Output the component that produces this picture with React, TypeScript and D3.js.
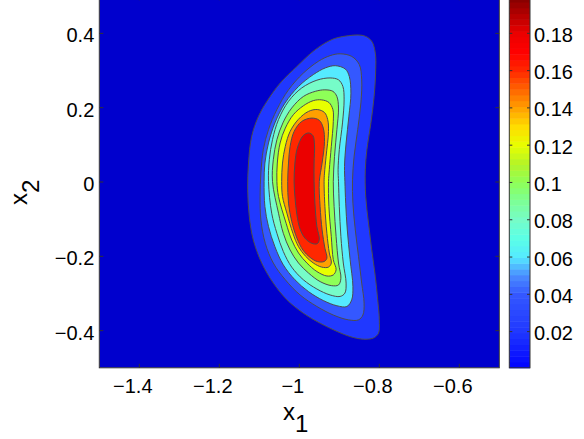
import React from "react";
import * as d3 from "d3";

type Pt = [number, number];

// contour levels (filled contour plot of a 2D density)
const levels = [0.02, 0.04, 0.06, 0.08, 0.1, 0.12, 0.14, 0.16, 0.18];
const xTicks = [-1.4, -1.2, -1, -0.8, -0.6];
const yTicks = [-0.4, -0.2, 0, 0.2, 0.4];
const colorTicks = [0.02, 0.04, 0.06, 0.08, 0.1, 0.12, 0.14, 0.16, 0.18];
const colorRange = [0.0006, 0.1999];

// outlines of each level, [x1, x2]
const contour02: Pt[] = [
  [-0.898, 0.39], [-0.84, 0.394], [-0.819, 0.379], [-0.81, 0.347], [-0.809, 0.302],
  [-0.813, 0.23], [-0.821, 0.159], [-0.831, 0.087], [-0.835, 0.033], [-0.834, -0.039],
  [-0.827, -0.111], [-0.819, -0.182], [-0.81, -0.254], [-0.804, -0.317], [-0.8, -0.371],
  [-0.802, -0.407], [-0.815, -0.42], [-0.84, -0.423], [-0.873, -0.416], [-0.906, -0.402],
  [-0.948, -0.38], [-0.99, -0.353], [-1.031, -0.317], [-1.065, -0.272], [-1.094, -0.218],
  [-1.115, -0.156], [-1.125, -0.093], [-1.129, -0.021], [-1.127, 0.051], [-1.119, 0.123],
  [-1.102, 0.177], [-1.081, 0.217], [-1.048, 0.266], [-1.006, 0.311], [-0.965, 0.352],
  [-0.927, 0.379],
];
const contour04: Pt[] = [
  [-0.898, 0.345], [-0.869, 0.338], [-0.85, 0.316], [-0.844, 0.275], [-0.846, 0.213],
  [-0.854, 0.141], [-0.863, 0.069], [-0.867, 0.006], [-0.866, -0.057], [-0.86, -0.129],
  [-0.852, -0.2], [-0.844, -0.272], [-0.838, -0.326], [-0.841, -0.358], [-0.852, -0.371],
  [-0.877, -0.371], [-0.915, -0.358], [-0.956, -0.335], [-0.998, -0.304], [-1.035, -0.263],
  [-1.065, -0.218], [-1.085, -0.165], [-1.096, -0.102], [-1.098, -0.039], [-1.096, 0.024],
  [-1.09, 0.087], [-1.077, 0.141], [-1.056, 0.195], [-1.027, 0.248], [-0.99, 0.293],
  [-0.952, 0.325], [-0.923, 0.34],
];
const contour06: Pt[] = [
  [-0.91, 0.313], [-0.885, 0.304], [-0.875, 0.284], [-0.871, 0.239], [-0.876, 0.177],
  [-0.883, 0.105], [-0.887, 0.042], [-0.886, 0.001], [-0.884, -0.057], [-0.88, -0.129],
  [-0.873, -0.209], [-0.866, -0.281], [-0.869, -0.317], [-0.881, -0.335], [-0.906, -0.333],
  [-0.94, -0.319], [-0.977, -0.295], [-1.011, -0.263], [-1.04, -0.223], [-1.061, -0.174],
  [-1.077, -0.12], [-1.086, -0.066], [-1.088, 0.001], [-1.086, 0.051], [-1.077, 0.105],
  [-1.061, 0.159], [-1.036, 0.212], [-1.002, 0.257], [-0.965, 0.289], [-0.935, 0.307],
];
const contour08: Pt[] = [
  [-0.923, 0.28], [-0.902, 0.275], [-0.891, 0.257], [-0.888, 0.221], [-0.892, 0.159],
  [-0.9, 0.087], [-0.903, 0.033], [-0.902, 0.001], [-0.9, -0.066], [-0.896, -0.147],
  [-0.89, -0.218], [-0.883, -0.272], [-0.886, -0.299], [-0.898, -0.308], [-0.923, -0.304],
  [-0.956, -0.288], [-0.99, -0.263], [-1.019, -0.229], [-1.04, -0.187], [-1.056, -0.138],
  [-1.069, -0.084], [-1.077, 0.001], [-1.075, 0.06], [-1.067, 0.114], [-1.052, 0.168],
  [-1.027, 0.217], [-0.994, 0.253], [-0.956, 0.274],
];
const contour10: Pt[] = [
  [-0.936, 0.248], [-0.916, 0.244], [-0.906, 0.23], [-0.902, 0.199], [-0.906, 0.141],
  [-0.912, 0.069], [-0.915, 0.001], [-0.913, -0.066], [-0.908, -0.147], [-0.902, -0.218],
  [-0.896, -0.259], [-0.902, -0.277], [-0.919, -0.279], [-0.948, -0.268], [-0.977, -0.245],
  [-1.002, -0.218], [-1.023, -0.183], [-1.04, -0.138], [-1.052, -0.084], [-1.067, 0.001],
  [-1.065, 0.06], [-1.056, 0.114], [-1.041, 0.159], [-1.019, 0.199], [-0.99, 0.23],
  [-0.96, 0.244],
];
const contour12: Pt[] = [
  [-0.944, 0.221], [-0.926, 0.214], [-0.916, 0.195], [-0.915, 0.163], [-0.92, 0.096],
  [-0.925, 0.033], [-0.927, 0.001], [-0.926, -0.066], [-0.92, -0.147], [-0.915, -0.209],
  [-0.908, -0.236], [-0.915, -0.25], [-0.931, -0.253], [-0.956, -0.241], [-0.981, -0.218],
  [-1.002, -0.191], [-1.019, -0.156], [-1.033, -0.111], [-1.052, -0.039], [-1.056, 0.001],
  [-1.055, 0.051], [-1.048, 0.105], [-1.035, 0.145], [-1.015, 0.181], [-0.99, 0.205],
  [-0.965, 0.219],
];
const contour14: Pt[] = [
  [-0.955, 0.195], [-0.937, 0.187], [-0.929, 0.168], [-0.927, 0.136], [-0.933, 0.069],
  [-0.937, 0.024], [-0.938, 0.001], [-0.936, -0.066], [-0.931, -0.138], [-0.925, -0.191],
  [-0.92, -0.218], [-0.927, -0.229], [-0.944, -0.229], [-0.965, -0.218], [-0.985, -0.199],
  [-1.002, -0.174], [-1.016, -0.138], [-1.031, -0.084], [-1.042, -0.039], [-1.044, 0.001],
  [-1.042, 0.051], [-1.035, 0.096], [-1.023, 0.136], [-1.002, 0.169], [-0.977, 0.19],
];
const contour16: Pt[] = [
  [-0.969, 0.172], [-0.95, 0.166], [-0.94, 0.145], [-0.937, 0.109], [-0.943, 0.051],
  [-0.95, 0.001], [-0.948, -0.066], [-0.943, -0.129], [-0.936, -0.178], [-0.931, -0.205],
  [-0.938, -0.214], [-0.955, -0.214], [-0.973, -0.203], [-0.991, -0.183], [-1.006, -0.151],
  [-1.019, -0.106], [-1.027, -0.057], [-1.029, 0.001], [-1.027, 0.051], [-1.023, 0.096],
  [-1.013, 0.136], [-0.994, 0.163],
];
const contour18: Pt[] = [
  [-0.977, 0.132], [-0.966, 0.125], [-0.962, 0.1], [-0.963, 0.051], [-0.963, 0.001],
  [-0.961, -0.057], [-0.956, -0.12], [-0.95, -0.154], [-0.955, -0.166], [-0.969, -0.165],
  [-0.986, -0.151], [-0.998, -0.127], [-1.006, -0.088], [-1.011, -0.039], [-1.013, 0.001],
  [-1.011, 0.051], [-1.005, 0.091], [-0.991, 0.124],
];
const outlines = [
  contour02, contour04, contour06, contour08, contour10,
  contour12, contour14, contour16, contour18,
];

// jet-like colormap as it appears in the figure
const mapStops = [0, 0.02, 0.04, 0.05, 0.06, 0.07, 0.08, 0.09, 0.1, 0.11, 0.12, 0.13, 0.14, 0.15, 0.16, 0.17, 0.18, 0.19, 0.2];
const mapColors = [
  "#0000ff", "#2038ff", "#3458ff", "#4a8cff", "#55eaff", "#5affe6", "#76fcc8", "#7cff96",
  "#8eff58", "#b4f428", "#e8ff00", "#ffdc00", "#ffa000", "#ff6400", "#ff2800", "#ff0000",
  "#eb0000", "#b40000", "#820000",
];
const background = "#0000cd";

const font = "'Liberation Sans', Arial, Helvetica, sans-serif";
const fmt = (v: number) => String(v).replace("-", "\u2212");

const App = () => {
  const width = 584;
  const height = 439;
  const plot = { left: 99.3, right: 499.3, top: -3.8, bottom: 367.8 };
  const bar = { left: 509.3, right: 530 };

  const x = d3.scaleLinear().domain([-1.5, -0.5]).range([plot.left, plot.right]);
  const y = d3.scaleLinear().domain([-0.5, 0.5]).range([plot.bottom, plot.top]);
  const cy = d3.scaleLinear().domain(colorRange).range([plot.bottom, plot.top]);
  const cmap = d3
    .scaleLinear<string>()
    .domain(mapStops)
    .range(mapColors)
    .interpolate(d3.interpolateRgb)
    .clamp(true);

  const line = d3
    .line<Pt>()
    .x((d) => x(d[0]))
    .y((d) => y(d[1]))
    .curve(d3.curveCatmullRomClosed.alpha(0.5));

  const nColors = 64;
  const step = (colorRange[1] - colorRange[0]) / nColors;
  const bands = d3.range(nColors).map((i) => {
    const v0 = colorRange[0] + i * step;
    return { v0, v1: v0 + step, color: cmap(v0 + step / 2) };
  });

  const tick = 4;
  const axisColor = "#333";

  return (
    <svg
      width={width}
      height={height}
      style={{ position: "absolute", left: 0, top: 0, background: "#fff" }}
      fontFamily={font}
    >
      <defs>
        <clipPath id="plot-clip">
          <rect x={plot.left} y={plot.top} width={plot.right - plot.left} height={plot.bottom - plot.top} />
        </clipPath>
      </defs>

      <g clipPath="url(#plot-clip)">
        <rect x={plot.left} y={plot.top} width={plot.right - plot.left} height={plot.bottom - plot.top} fill={background} />
        {outlines.map((pts, i) => (
          <path key={i} d={line(pts) || ""} fill={cmap(levels[i])} stroke="#4d4d4d" strokeWidth={1} />
        ))}
      </g>

      {/* ticks, inside the box */}
      {xTicks.map((t) => (
        <g key={"xt" + t} stroke={axisColor} strokeWidth={1}>
          <line x1={x(t)} x2={x(t)} y1={plot.bottom} y2={plot.bottom - tick} />
          <line x1={x(t)} x2={x(t)} y1={plot.top} y2={plot.top + tick} />
        </g>
      ))}
      {yTicks.map((t) => (
        <g key={"yt" + t} stroke={axisColor} strokeWidth={1}>
          <line x1={plot.left} x2={plot.left + tick} y1={y(t)} y2={y(t)} />
          <line x1={plot.right} x2={plot.right - tick} y1={y(t)} y2={y(t)} />
        </g>
      ))}
      <rect
        x={plot.left}
        y={plot.top}
        width={plot.right - plot.left}
        height={plot.bottom - plot.top}
        fill="none"
        stroke={axisColor}
        strokeWidth={1}
      />

      {xTicks.map((t) => (
        <text key={"xl" + t} x={x(t) - 6.5} y={393} textAnchor="middle" fontSize={20} fill="#000">
          {fmt(t)}
        </text>
      ))}
      {yTicks.map((t) => (
        <text key={"yl" + t} x={94.3} y={y(t) + 9} textAnchor="end" fontSize={20} fill="#000">
          {fmt(t)}
        </text>
      ))}

      {/* axis labels */}
      <text x={283} y={419.5} fontSize={24} fill="#000">
        x<tspan dy={12}>1</tspan>
      </text>
      <text transform="translate(27,205) rotate(-90)" fontSize={24} fill="#000">
        x<tspan dy={12}>2</tspan>
      </text>

      {/* colorbar */}
      {bands.map((b, i) => (
        <rect
          key={"cb" + i}
          x={bar.left}
          y={cy(b.v1)}
          width={bar.right - bar.left}
          height={cy(b.v0) - cy(b.v1) + 0.5}
          fill={b.color}
        />
      ))}
      {colorTicks.map((t) => (
        <g key={"ct" + t} stroke={axisColor} strokeWidth={1}>
          <line x1={bar.left} x2={bar.left + 3} y1={cy(t)} y2={cy(t)} />
          <line x1={bar.right} x2={bar.right - 3} y1={cy(t)} y2={cy(t)} />
        </g>
      ))}
      <rect
        x={bar.left}
        y={plot.top}
        width={bar.right - bar.left}
        height={plot.bottom - plot.top}
        fill="none"
        stroke={axisColor}
        strokeWidth={1}
      />
      {colorTicks.map((t) => (
        <text key={"cl" + t} x={534} y={cy(t) + 8.5} fontSize={20} fill="#000">
          {fmt(t)}
        </text>
      ))}
    </svg>
  );
};

export default App;
